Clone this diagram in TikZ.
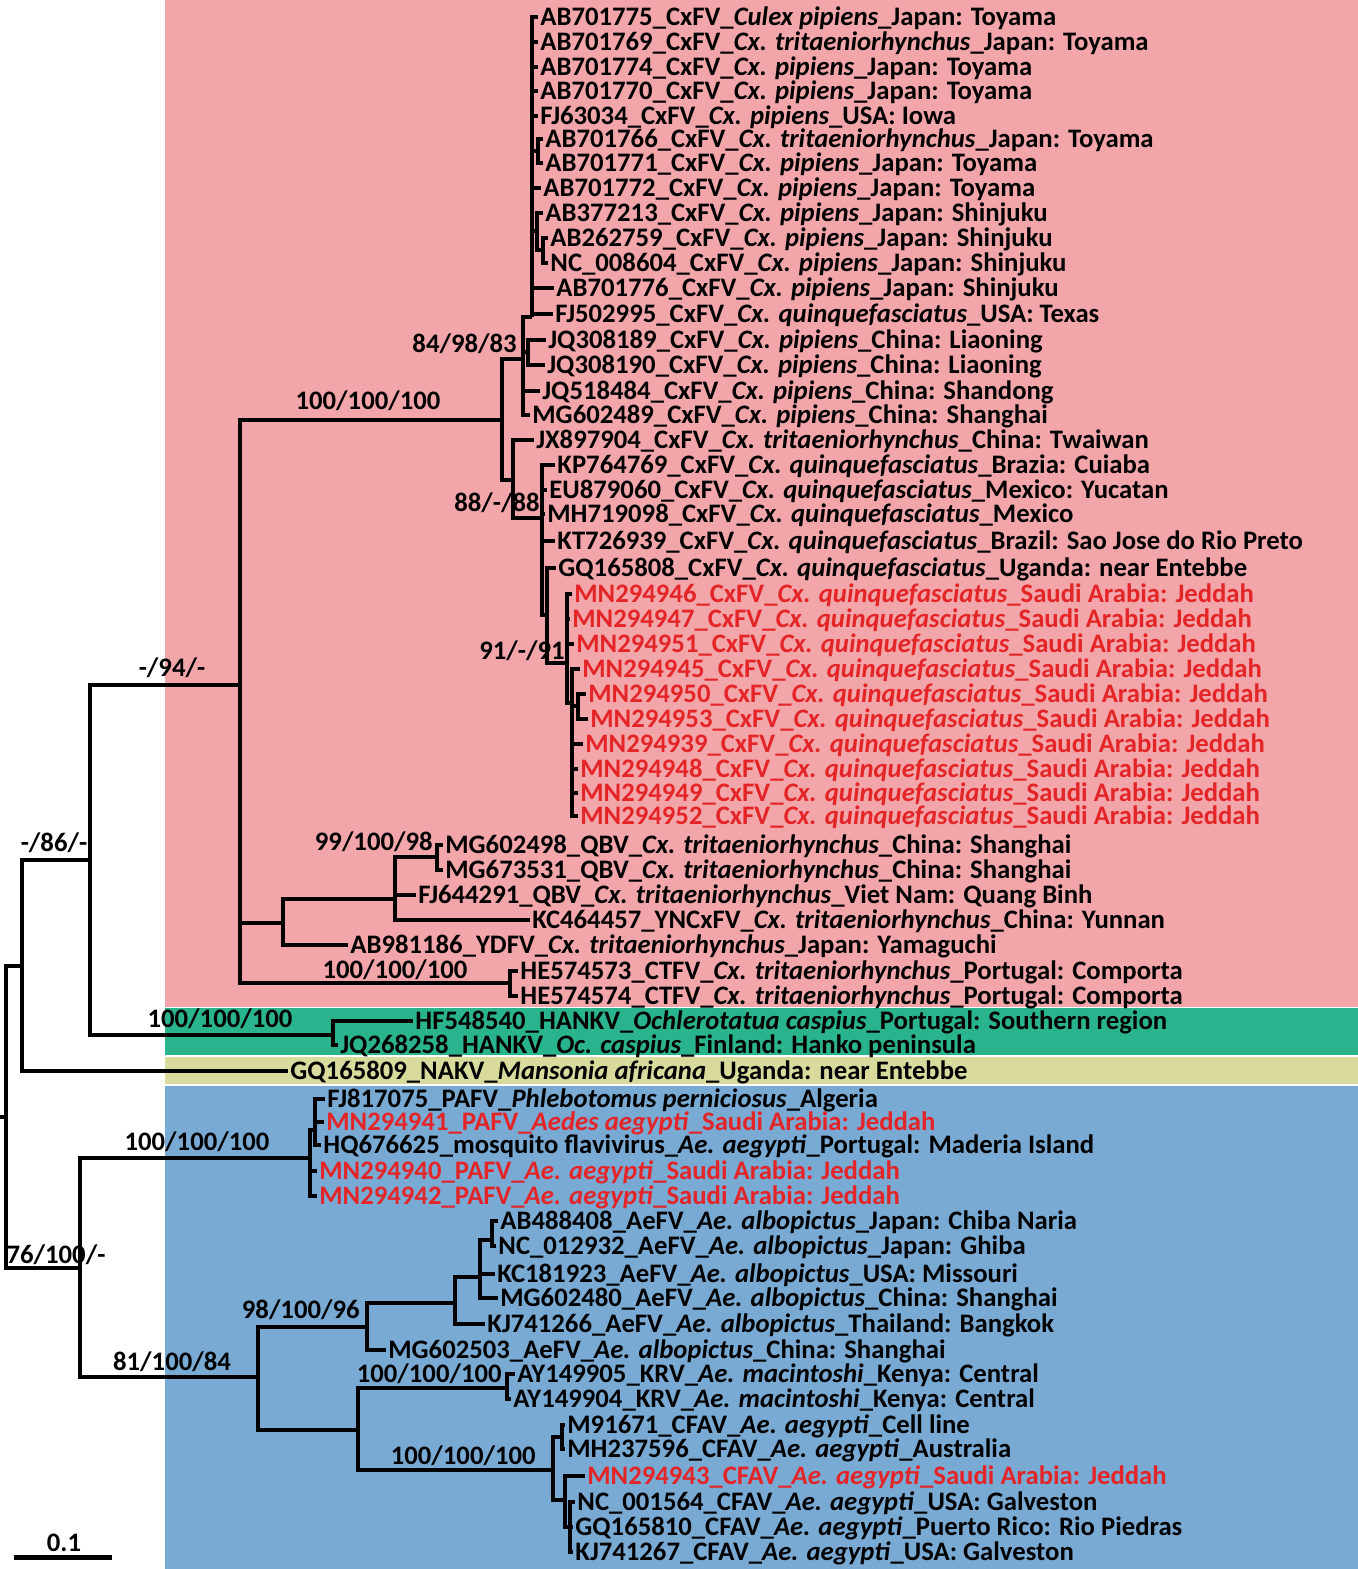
\documentclass[tikz,border=0pt]{standalone}
\usepackage{fontspec}
\setmainfont{Carlito}
\usepackage{xcolor}
\definecolor{cladepink}{HTML}{F2A6AA}
\definecolor{cladegreen}{HTML}{2AB48E}
\definecolor{cladeyellow}{HTML}{D8DB9C}
\definecolor{cladeblue}{HTML}{78AAD4}
\definecolor{newred}{HTML}{E42528}
\newcommand{\treefont}{\fontsize{13.35}{16}\selectfont\bfseries}
\tikzset{
    tree-branch/.style = {draw=black, line width=2pt},
    leaf-label/.style = {anchor=west, inner xsep=1pt, inner ysep=0pt, text height=8.6pt, text depth=0pt, font=\treefont},
    leaf-label-new/.style = {leaf-label, text=newred},
    support-label/.style = {inner sep=0pt, text height=8.6pt, text depth=0pt, font=\treefont},
}

\begin{document}
\begin{tikzpicture}[x=0.5pt, y=-0.5pt]
\useasboundingbox (0,0) rectangle (1358,1569);
\fill[white] (0,0) rectangle (1358,1569);
\fill[cladepink] (165,0) rectangle (1358,1007);
\fill[cladegreen] (165,1008) rectangle (1358,1055);
\fill[cladeyellow] (165,1057) rectangle (1358,1084);
\fill[cladeblue] (165,1086) rectangle (1358,1569);

\node[leaf-label] (ab701775) at (538,17) {AB701775\_CxFV\_\textit{Culex pipiens}\_Japan: Toyama};
\node[leaf-label] (ab701769) at (538,42) {AB701769\_CxFV\_\textit{Cx. tritaeniorhynchus}\_Japan: Toyama};
\node[leaf-label] (ab701774) at (538,67) {AB701774\_CxFV\_\textit{Cx. pipiens}\_Japan: Toyama};
\node[leaf-label] (ab701770) at (538,91) {AB701770\_CxFV\_\textit{Cx. pipiens}\_Japan: Toyama};
\node[leaf-label] (fj63034) at (538,116) {FJ63034\_CxFV\_\textit{Cx. pipiens}\_USA: Iowa};
\node[leaf-label] (ab701766) at (543,139) {AB701766\_CxFV\_\textit{Cx. tritaeniorhynchus}\_Japan: Toyama};
\node[leaf-label] (ab701771) at (543,163) {AB701771\_CxFV\_\textit{Cx. pipiens}\_Japan: Toyama};
\node[leaf-label] (ab701772) at (541,188) {AB701772\_CxFV\_\textit{Cx. pipiens}\_Japan: Toyama};
\node[leaf-label] (ab377213) at (543,213) {AB377213\_CxFV\_\textit{Cx. pipiens}\_Japan: Shinjuku};
\node[leaf-label] (ab262759) at (548,238) {AB262759\_CxFV\_\textit{Cx. pipiens}\_Japan: Shinjuku};
\node[leaf-label] (nc008604) at (548,263) {NC\_008604\_CxFV\_\textit{Cx. pipiens}\_Japan: Shinjuku};
\node[leaf-label] (ab701776) at (554,288) {AB701776\_CxFV\_\textit{Cx. pipiens}\_Japan: Shinjuku};
\node[leaf-label] (fj502995) at (553,314) {FJ502995\_CxFV\_\textit{Cx. quinquefasciatus}\_USA: Texas};
\node[leaf-label] (jq308189) at (546,340) {JQ308189\_CxFV\_\textit{Cx. pipiens}\_China: Liaoning};
\node[leaf-label] (jq308190) at (545,365) {JQ308190\_CxFV\_\textit{Cx. pipiens}\_China: Liaoning};
\node[leaf-label] (jq518484) at (540,391) {JQ518484\_CxFV\_\textit{Cx. pipiens}\_China: Shandong};
\node[leaf-label] (mg602489) at (530,415) {MG602489\_CxFV\_\textit{Cx. pipiens}\_China: Shanghai};
\node[leaf-label] (jx897904) at (534,440) {JX897904\_CxFV\_\textit{Cx. tritaeniorhynchus}\_China: Twaiwan};
\node[leaf-label] (kp764769) at (555,465) {KP764769\_CxFV\_\textit{Cx. quinquefasciatus}\_Brazia: Cuiaba};
\node[leaf-label] (eu879060) at (547,490) {EU879060\_CxFV\_\textit{Cx. quinquefasciatus}\_Mexico: Yucatan};
\node[leaf-label] (mh719098) at (545,514) {MH719098\_CxFV\_\textit{Cx. quinquefasciatus}\_Mexico};
\node[leaf-label] (kt726939) at (555,541) {KT726939\_CxFV\_\textit{Cx. quinquefasciatus}\_Brazil: Sao Jose do Rio Preto};
\node[leaf-label] (gq165808) at (556,568) {GQ165808\_CxFV\_\textit{Cx. quinquefasciatus}\_Uganda: near Entebbe};
\node[leaf-label-new] (mn294946) at (572,594) {MN294946\_CxFV\_\textit{Cx. quinquefasciatus}\_Saudi Arabia: Jeddah};
\node[leaf-label-new] (mn294947) at (570,619) {MN294947\_CxFV\_\textit{Cx. quinquefasciatus}\_Saudi Arabia: Jeddah};
\node[leaf-label-new] (mn294951) at (574,644) {MN294951\_CxFV\_\textit{Cx. quinquefasciatus}\_Saudi Arabia: Jeddah};
\node[leaf-label-new] (mn294945) at (580,669) {MN294945\_CxFV\_\textit{Cx. quinquefasciatus}\_Saudi Arabia: Jeddah};
\node[leaf-label-new] (mn294950) at (586,694) {MN294950\_CxFV\_\textit{Cx. quinquefasciatus}\_Saudi Arabia: Jeddah};
\node[leaf-label-new] (mn294953) at (588,719) {MN294953\_CxFV\_\textit{Cx. quinquefasciatus}\_Saudi Arabia: Jeddah};
\node[leaf-label-new] (mn294939) at (583,744) {MN294939\_CxFV\_\textit{Cx. quinquefasciatus}\_Saudi Arabia: Jeddah};
\node[leaf-label-new] (mn294948) at (578,769) {MN294948\_CxFV\_\textit{Cx. quinquefasciatus}\_Saudi Arabia: Jeddah};
\node[leaf-label-new] (mn294949) at (578,793) {MN294949\_CxFV\_\textit{Cx. quinquefasciatus}\_Saudi Arabia: Jeddah};
\node[leaf-label-new] (mn294952) at (578,816) {MN294952\_CxFV\_\textit{Cx. quinquefasciatus}\_Saudi Arabia: Jeddah};
\node[leaf-label] (mg602498) at (443,845) {MG602498\_QBV\_\textit{Cx. tritaeniorhynchus}\_China: Shanghai};
\node[leaf-label] (mg673531) at (443,870) {MG673531\_QBV\_\textit{Cx. tritaeniorhynchus}\_China: Shanghai};
\node[leaf-label] (fj644291) at (416,895) {FJ644291\_QBV\_\textit{Cx. tritaeniorhynchus}\_Viet Nam: Quang Binh};
\node[leaf-label] (kc464457) at (530,920) {KC464457\_YNCxFV\_\textit{Cx. tritaeniorhynchus}\_China: Yunnan};
\node[leaf-label] (ab981186) at (348,945) {AB981186\_YDFV\_\textit{Cx. tritaeniorhynchus}\_Japan: Yamaguchi};
\node[leaf-label] (he574573) at (518,971) {HE574573\_CTFV\_\textit{Cx. tritaeniorhynchus}\_Portugal: Comporta};
\node[leaf-label] (he574574) at (518,996) {HE574574\_CTFV\_\textit{Cx. tritaeniorhynchus}\_Portugal: Comporta};
\node[leaf-label] (hf548540) at (413,1021) {HF548540\_HANKV\_\textit{Ochlerotatua caspius}\_Portugal: Southern region};
\node[leaf-label] (jq268258) at (338,1045) {JQ268258\_HANKV\_\textit{Oc. caspius}\_Finland: Hanko peninsula};
\node[leaf-label] (gq165809) at (288,1071) {GQ165809\_NAKV\_\textit{Mansonia africana}\_Uganda: near Entebbe};
\node[leaf-label] (fj817075) at (325,1099) {FJ817075\_PAFV\_\textit{Phlebotomus perniciosus}\_Algeria};
\node[leaf-label-new] (mn294941) at (324,1122) {MN294941\_PAFV\_\textit{Aedes aegypti}\_Saudi Arabia: Jeddah};
\node[leaf-label] (hq676625) at (321,1145) {HQ676625\_mosquito flavivirus\_\textit{Ae. aegypti}\_Portugal: Maderia Island};
\node[leaf-label-new] (mn294940) at (317,1171) {MN294940\_PAFV\_\textit{Ae. aegypti}\_Saudi Arabia: Jeddah};
\node[leaf-label-new] (mn294942) at (317,1196) {MN294942\_PAFV\_\textit{Ae. aegypti}\_Saudi Arabia: Jeddah};
\node[leaf-label] (ab488408) at (498,1221) {AB488408\_AeFV\_\textit{Ae. albopictus}\_Japan: Chiba Naria};
\node[leaf-label] (nc012932) at (496,1246) {NC\_012932\_AeFV\_\textit{Ae. albopictus}\_Japan: Ghiba};
\node[leaf-label] (kc181923) at (495,1274) {KC181923\_AeFV\_\textit{Ae. albopictus}\_USA: Missouri};
\node[leaf-label] (mg602480) at (498,1298) {MG602480\_AeFV\_\textit{Ae. albopictus}\_China: Shanghai};
\node[leaf-label] (kj741266) at (485,1324) {KJ741266\_AeFV\_\textit{Ae. albopictus}\_Thailand: Bangkok};
\node[leaf-label] (mg602503) at (386,1350) {MG602503\_AeFV\_\textit{Ae. albopictus}\_China: Shanghai};
\node[leaf-label] (ay149905) at (515,1374) {AY149905\_KRV\_\textit{Ae. macintoshi}\_Kenya: Central};
\node[leaf-label] (ay149904) at (511,1399) {AY149904\_KRV\_\textit{Ae. macintoshi}\_Kenya: Central};
\node[leaf-label] (m91671) at (565,1425) {M91671\_CFAV\_\textit{Ae. aegypti}\_Cell line};
\node[leaf-label] (mh237596) at (565,1449) {MH237596\_CFAV\_\textit{Ae. aegypti}\_Australia};
\node[leaf-label-new] (mn294943) at (585,1476) {MN294943\_CFAV\_\textit{Ae. aegypti}\_Saudi Arabia: Jeddah};
\node[leaf-label] (nc001564) at (575,1502) {NC\_001564\_CFAV\_\textit{Ae. aegypti}\_USA: Galveston};
\node[leaf-label] (gq165810) at (573,1527) {GQ165810\_CFAV\_\textit{Ae. aegypti}\_Puerto Rico: Rio Piedras};
\node[leaf-label] (kj741267) at (573,1552) {KJ741267\_CFAV\_\textit{Ae. aegypti}\_USA: Galveston};

\coordinate (root-stem) at (0,1117);
\coordinate (root) at (6,1117);
\coordinate (n-a) at (22,966);
\coordinate (n-b) at (90,860);
\coordinate (n-c) at (240,685);
\coordinate (n-cxfv) at (502,420);
\coordinate (n-v) at (523,359);
\coordinate (n-u) at (532,317);
\coordinate (n-u6) at (538,151);
\coordinate (n-u9) at (537,231);
\coordinate (n-u10) at (543,250);
\coordinate (n-w) at (528,352);
\coordinate (n-j) at (513,480);
\coordinate (n-l) at (542,518);
\coordinate (n-m) at (547,615);
\coordinate (n-n) at (567,663);
\coordinate (n-o) at (572,703);
\coordinate (n-p) at (578,706);
\coordinate (n-e) at (283,923);
\coordinate (n-f) at (395,899);
\coordinate (n-g) at (437,857);
\coordinate (n-ctfv) at (510,983);
\coordinate (n-hankv) at (333,1035);
\coordinate (n-d) at (80,1268);
\coordinate (n-pafv) at (310,1158);
\coordinate (n-s) at (315,1130);
\coordinate (n-r) at (258,1377);
\coordinate (n-t) at (367,1327);
\coordinate (n-y) at (455,1303);
\coordinate (n-z) at (480,1277);
\coordinate (n-za) at (492,1240);
\coordinate (n-x) at (358,1430);
\coordinate (n-krv) at (507,1388);
\coordinate (n-cfav) at (553,1470);
\coordinate (n-cf1) at (562,1437);
\coordinate (n-cf2) at (565,1500);
\coordinate (n-cf3) at (570,1527);

\draw[tree-branch] (root-stem) -- (root);
\draw[tree-branch] (root) |- (n-a) (root) |- (n-d);
\draw[tree-branch] (n-a) |- (n-b) (n-a) |- (gq165809.west);
\draw[tree-branch] (n-b) |- (n-c) (n-b) |- (n-hankv);
\draw[tree-branch] (n-c) |- (n-cxfv) (n-c) |- (n-e) (n-c) |- (n-ctfv);
\draw[tree-branch] (n-cxfv) |- (n-v) (n-cxfv) |- (n-j);
\draw[tree-branch] (n-v) |- (n-u) (n-v) |- (n-w) (n-v) |- (jq518484.west) (n-v) |- (mg602489.west);
\draw[tree-branch] (n-u) |- (ab701775.west) (n-u) |- (ab701769.west) (n-u) |- (ab701774.west)
    (n-u) |- (ab701770.west) (n-u) |- (fj63034.west) (n-u) |- (n-u6) (n-u) |- (ab701772.west)
    (n-u) |- (n-u9) (n-u) |- (ab701776.west) (n-u) |- (fj502995.west);
\draw[tree-branch] (n-u6) |- (ab701766.west) (n-u6) |- (ab701771.west);
\draw[tree-branch] (n-u9) |- (ab377213.west) (n-u9) |- (n-u10);
\draw[tree-branch] (n-u10) |- (ab262759.west) (n-u10) |- (nc008604.west);
\draw[tree-branch] (n-w) |- (jq308189.west) (n-w) |- (jq308190.west);
\draw[tree-branch] (n-j) |- (jx897904.west) (n-j) |- (n-l);
\draw[tree-branch] (n-l) |- (kp764769.west) (n-l) |- (eu879060.west) (n-l) |- (mh719098.west)
    (n-l) |- (kt726939.west) (n-l) |- (n-m);
\draw[tree-branch] (n-m) |- (gq165808.west) (n-m) |- (n-n);
\draw[tree-branch] (n-n) |- (mn294946.west) (n-n) |- (mn294947.west) (n-n) |- (mn294951.west) (n-n) |- (n-o);
\draw[tree-branch] (n-o) |- (mn294945.west) (n-o) |- (n-p) (n-o) |- (mn294939.west)
    (n-o) |- (mn294948.west) (n-o) |- (mn294949.west) (n-o) |- (mn294952.west);
\draw[tree-branch] (n-p) |- (mn294950.west) (n-p) |- (mn294953.west);
\draw[tree-branch] (n-e) |- (n-f) (n-e) |- (ab981186.west);
\draw[tree-branch] (n-f) |- (n-g) (n-f) |- (fj644291.west) (n-f) |- (kc464457.west);
\draw[tree-branch] (n-g) |- (mg602498.west) (n-g) |- (mg673531.west);
\draw[tree-branch] (n-ctfv) |- (he574573.west) (n-ctfv) |- (he574574.west);
\draw[tree-branch] (n-hankv) |- (hf548540.west) (n-hankv) |- (jq268258.west);
\draw[tree-branch] (n-d) |- (n-pafv) (n-d) |- (n-r);
\draw[tree-branch] (n-pafv) |- (n-s) (n-pafv) |- (mn294940.west) (n-pafv) |- (mn294942.west);
\draw[tree-branch] (n-s) |- (fj817075.west) (n-s) |- (mn294941.west) (n-s) |- (hq676625.west);
\draw[tree-branch] (n-r) |- (n-t) (n-r) |- (n-x);
\draw[tree-branch] (n-t) |- (n-y) (n-t) |- (mg602503.west);
\draw[tree-branch] (n-y) |- (n-z) (n-y) |- (kj741266.west);
\draw[tree-branch] (n-z) |- (n-za) (n-z) |- (kc181923.west) (n-z) |- (mg602480.west);
\draw[tree-branch] (n-za) |- (ab488408.west) (n-za) |- (nc012932.west);
\draw[tree-branch] (n-x) |- (n-krv) (n-x) |- (n-cfav);
\draw[tree-branch] (n-krv) |- (ay149905.west) (n-krv) |- (ay149904.west);
\draw[tree-branch] (n-cfav) |- (n-cf1) (n-cfav) |- (n-cf2);
\draw[tree-branch] (n-cf1) |- (m91671.west) (n-cf1) |- (mh237596.west);
\draw[tree-branch] (n-cf2) |- (mn294943.west) (n-cf2) |- (n-cf3);
\draw[tree-branch] (n-cf3) |- (nc001564.west) (n-cf3) |- (gq165810.west) (n-cf3) |- (kj741267.west);

\node[support-label, anchor=east] (bs-v) at (517,344) {84/98/83};
\node[support-label] (bs-cxfv) at (368,401) {100/100/100};
\node[support-label, anchor=east] (bs-j) at (540,503) {88/-/88};
\node[support-label, anchor=east] (bs-n) at (565,651) {91/-/91};
\node[support-label] (bs-c) at (172,668) {-/94/-};
\node[support-label] (bs-b) at (54,843) {-/86/-};
\node[support-label, anchor=east] (bs-g) at (433,842) {99/100/98};
\node[support-label] (bs-ctfv) at (395,970) {100/100/100};
\node[support-label] (bs-hankv) at (220,1019) {100/100/100};
\node[support-label] (bs-pafv) at (197,1142) {100/100/100};
\node[support-label] (bs-d) at (56,1255) {76/100/-};
\node[support-label, anchor=east] (bs-t) at (360,1310) {98/100/96};
\node[support-label] (bs-r) at (172,1362) {81/100/84};
\node[support-label, anchor=east] (bs-krv) at (502,1374) {100/100/100};
\node[support-label, anchor=east] (bs-cfav) at (536,1456) {100/100/100};

\coordinate (scale-left) at (14,1557);
\coordinate (scale-right) at (112,1557);
\draw[line width=2.5pt] (scale-left) -- (scale-right);
\node[support-label] (scale-text) at (64,1543) {0.1};
\end{tikzpicture}
\end{document}
